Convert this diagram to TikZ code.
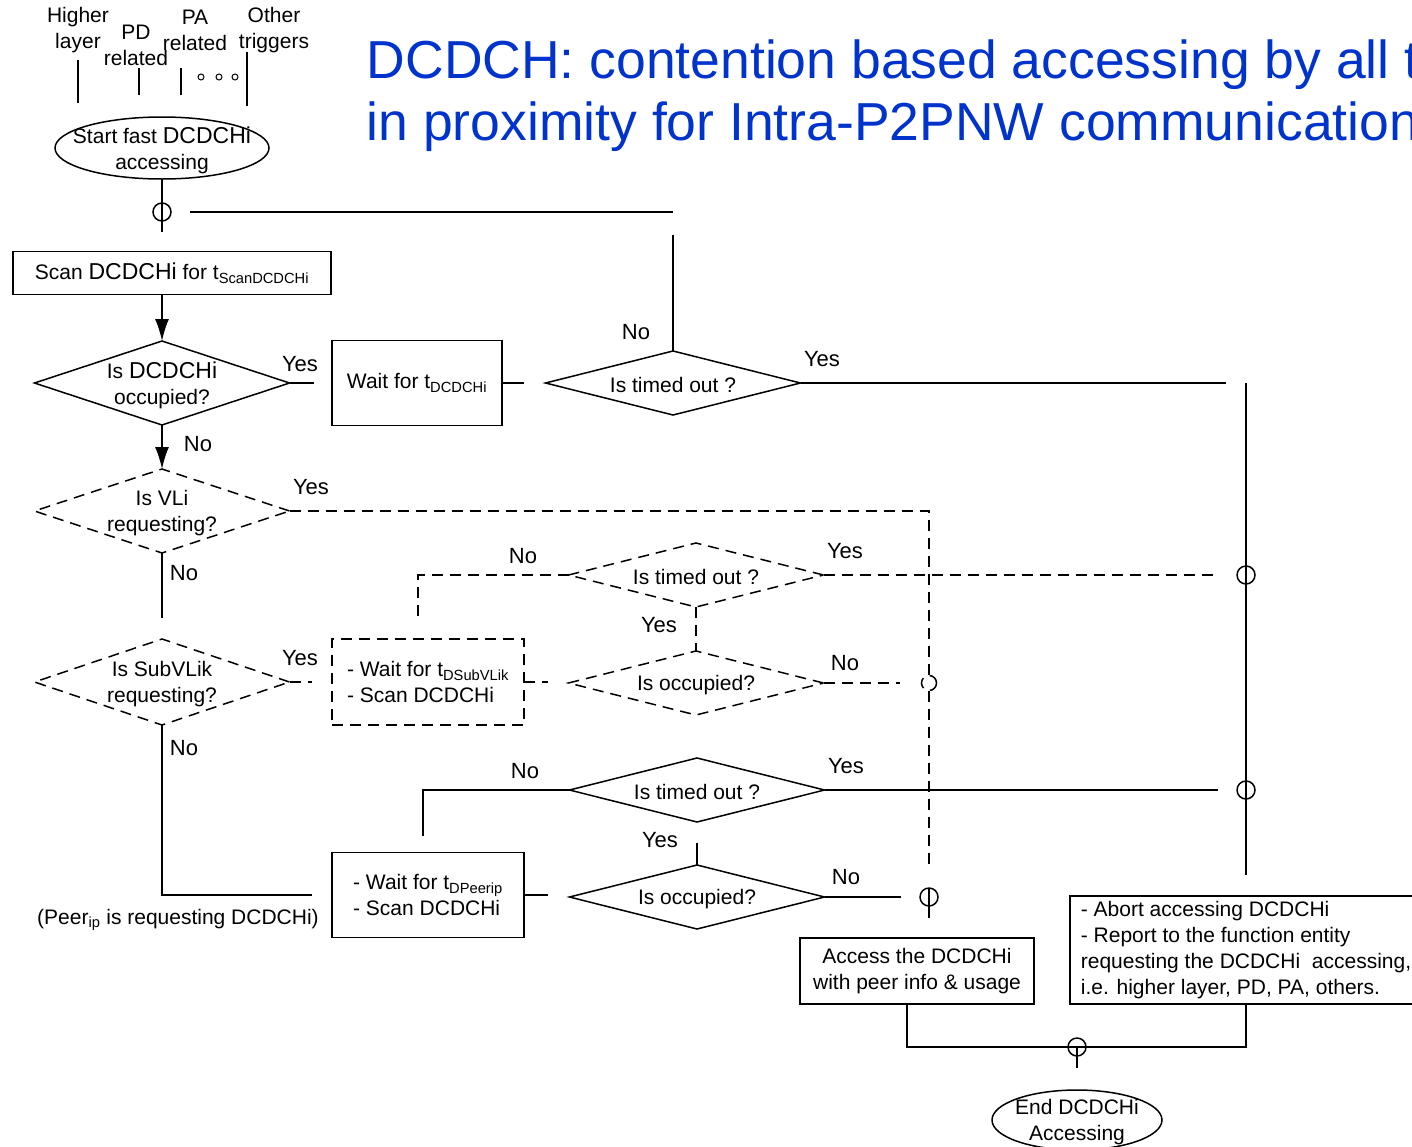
\documentclass[tikz,border=0pt]{standalone}
\usepackage{fontspec}
\setmainfont{Liberation Sans}
\usetikzlibrary{shapes.geometric,arrows.meta}
\definecolor{titleblue}{RGB}{0,51,204}
\newcommand\dcbig{\fontsize{23}{26}\selectfont}
\tikzset{
  txt/.style={align=center, inner sep=0pt, yshift=-2pt},
  procbox/.style={draw, rectangle, inner sep=0pt, outer sep=0pt, align=center},
  termshape/.style={draw, ellipse, inner sep=0pt, outer sep=0pt},
  decision/.style={draw, diamond, inner sep=0pt, outer sep=0pt, minimum width=255, minimum height=#1},
  decision/.default=64,
  junction/.style={draw, circle, inner sep=0pt, outer sep=0pt, minimum size=18},
  dashln/.style={dash pattern=on 11pt off 7pt},
  yn/.style={font=\fontsize{22}{26}\selectfont, inner sep=0pt},
  arrowln/.style={-{Latex[length=22pt,width=14pt]}},
}
\begin{document}
\begin{tikzpicture}[x=1pt, y=-1pt, line width=1.5pt, font=\fontsize{21}{26}\selectfont]
  \useasboundingbox (0,0) rectangle (1412,1146);

  %% ==== title (runs past the right edge, as in the slide) ====
  \node[anchor=base west, inner sep=0pt, text=titleblue, font=\fontsize{53.5}{62}\selectfont]
    (title1) at (366,78) {DCDCH: contention based accessing by all t};
  \node[anchor=base west, inner sep=0pt, text=titleblue, font=\fontsize{53.5}{62}\selectfont]
    (title2) at (366,140) {in proximity for Intra-P2PNW communication};

  %% ==== triggers ====
  \node[txt] (hl) at (78,28) {Higher\\layer};
  \node[txt] (pd) at (136,43) {PD\\related};
  \node[txt] (pa) at (195,28) {PA\\related};
  \node[txt] (ot) at (274,28) {Other\\triggers};
  \draw (78,60) -- (78,103);
  \draw (139,68) -- (139,95);
  \draw (181,68) -- (181,95);
  \draw (247,52) -- (247,106);
  \foreach \x in {201,219,235}
    \draw[line width=1pt] (\x,77) circle (3);

  %% ==== start ====
  \node[termshape, minimum width=214, minimum height=62] (start) at (162,148) {};
  \node[txt] (startt) at (start) {Start fast {\dcbig DCDCHi}\\accessing};
  \node[junction] (j1) at (162,212) {};
  \draw (start.south) -- (j1.center) -- ++(0,20);

  \node[procbox, minimum width=318, minimum height=43] (scan) at (172,273)
    {Scan {\dcbig DCDCHi} for t\textsubscript{ScanDCDCHi}};

  %% ==== first check ====
  \node[decision=84] (d1) at (162,383) {};
  \node[txt] (d1t) at (d1) {Is {\dcbig DCDCHi}\\occupied?};
  \draw[arrowln] (scan.south -| d1.north) -- (d1.north);
  \node[yn] (y1) at (300,364) {Yes};
  \draw (d1.east) -- ++(24,0);

  \node[procbox, minimum width=170, minimum height=85] (wait1) at (417,383)
    {Wait for t\textsubscript{DCDCHi}};
  \draw (wait1.east) -- ++(22,0);

  \node[decision] (d2) at (673,383) {};
  \node[txt] (d2t) at (d2) {Is timed out ?};
  \node[yn] (n2) at (636,332) {No};
  \node[yn] (y2) at (822,359) {Yes};
  \draw (d2.north) -- ++(0,-116);
  \draw ([xshift=28pt]j1.center) -- (d2.north |- j1.center);

  %% ==== right bus ====
  \coordinate (bustop) at (1246,383);
  \node[junction] (jr1) at (1246,575) {};
  \node[junction] (jr2) at (1246,790) {};
  \draw (d2.east) -- ([xshift=-20pt]bustop);
  \draw (bustop) -- (jr1.center) -- (jr2.center) -- ++(0,85);

  %% ==== VLi ====
  \node[decision=84, dashln] (d3) at (162,511) {};
  \node[txt] (d3t) at (d3) {Is VLi\\requesting?};
  \draw[arrowln] (d1.south) -- (d3.north);
  \node[yn] (n1) at (198,444) {No};
  \node[yn] (y3) at (311,487) {Yes};
  \coordinate (dbus) at (929,511);
  \node[junction, dashln, minimum size=15] (jd) at (929,683) {};
  \node[junction] (ja) at (929,897) {};
  \draw[dashln] (d3.east) -- (dbus) -- (jd.north);
  \draw[dashln] (jd.south) -- ([yshift=21pt]ja.north);
  \draw (ja.north) -- ([yshift=-12pt]ja.south);
  \draw (d3.south) -- ++(0,65);
  \node[yn] (n3) at (184,573) {No};

  %% ==== SubVLik ====
  \node[decision=86, dashln] (d4) at (162,682) {};
  \node[txt] (d4t) at (d4) {Is SubVLik\\requesting?};
  \node[yn] (y4) at (300,658) {Yes};
  \draw[dashln] (d4.east) -- ++(22,0);
  \node[procbox, dashln, minimum width=192, minimum height=86, align=left] (wait2) at (428,682)
    {- Wait for t\textsubscript{DSubVLik}\\- Scan DCDCHi};
  \draw[dashln] (wait2.east) -- ++(24,0);

  \node[decision, dashln] (d5) at (696,575) {};
  \node[txt] (d5t) at (d5) {Is timed out ?};
  \draw[dashln] (d5.west) -| ([xshift=-10pt,yshift=21pt]wait2.north);
  \node[yn] (n5) at (523,556) {No};
  \node[yn] (y5) at (845,551) {Yes};
  \draw[dashln] (d5.east) -- ([xshift=-19pt]jr1.west);

  \node[decision, dashln] (d6) at (696,683) {};
  \node[txt] (d6t) at (d6) {Is occupied?};
  \draw[dashln] (d5.south) -- (d6.north);
  \node[yn] (y5b) at (659,625) {Yes};
  \node[yn] (n6) at (845,663) {No};
  \draw[dashln] (d6.east) -- ([xshift=-22pt]jd.west);

  %% ==== Peer ====
  \node[procbox, minimum width=192, minimum height=85, align=left] (wait3) at (428,895)
    {- Wait for t\textsubscript{DPeerip}\\- Scan DCDCHi};
  \draw (d4.south) |- ([xshift=-20pt]wait3.west);
  \node[yn] (n4) at (184,748) {No};
  \node[inner sep=0pt] (peer) at (178,920) {(Peer\textsubscript{ip} is requesting DCDCHi)};
  \draw (wait3.east) -- ++(24,0);

  \node[decision] (d7) at (697,790) {};
  \node[txt] (d7t) at (d7) {Is timed out ?};
  \draw (d7.west) -| ([xshift=-5pt,yshift=17pt]wait3.north);
  \node[yn] (n7) at (525,771) {No};
  \node[yn] (y7) at (846,766) {Yes};
  \draw (d7.east) -- ([xshift=-19pt]jr2.west);

  \node[decision] (d8) at (697,897) {};
  \node[txt] (d8t) at (d8) {Is occupied?};
  \draw ([yshift=-21pt]d7.south) -- (d8.north);
  \node[yn] (y7b) at (660,840) {Yes};
  \node[yn] (n8) at (846,877) {No};
  \draw (d8.east) -- ([xshift=-19pt]ja.west);

  %% ==== results ====
  \node[procbox, minimum width=234, minimum height=66] (access) at (917,971)
    {Access the DCDCHi\\with peer info \& usage};
  \node[procbox, minimum width=352, minimum height=108, align=left] (abort) at (1246,950)
    {- Abort accessing DCDCHi\\- Report to the function entity\\requesting the DCDCHi\ \ accessing,\\i.e. higher layer, PD, PA, others.};
  \node[junction] (jb) at (1077,1047) {};
  \draw ([xshift=-10pt]access.south) |- (jb.center) -| (abort.south);
  \draw (jb.center) -- ++(0,21);
  \node[termshape, minimum width=170, minimum height=60] (stop) at (1077,1120) {};
  \node[txt] (stopt) at (stop) {End DCDCHi\\Accessing};
\end{tikzpicture}
\end{document}
